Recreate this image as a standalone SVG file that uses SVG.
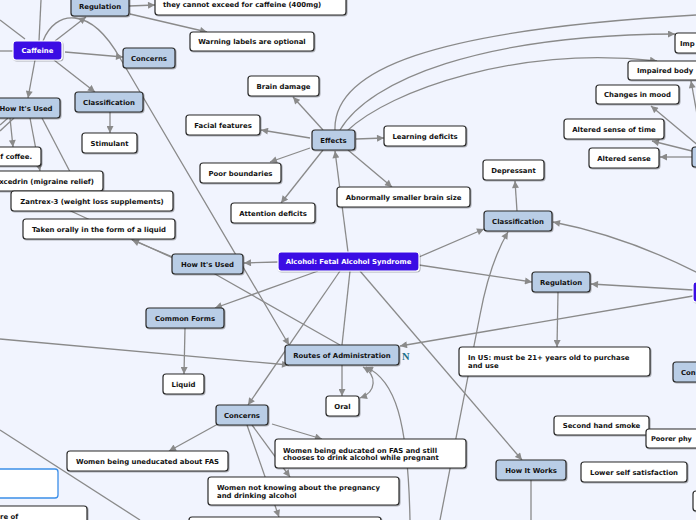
<svg xmlns="http://www.w3.org/2000/svg" width="696" height="520" viewBox="0 0 696 520">
<defs>
<marker id="a" viewBox="0 0 10 10" refX="10" refY="5" markerWidth="8" markerHeight="7" markerUnits="userSpaceOnUse" orient="auto-start-reverse"><path d="M0,0 L10,5 L0,10 z" fill="#8a8a8a"/></marker>
<filter id="sh" x="-10%" y="-20%" width="120%" height="150%"><feDropShadow dx="0.8" dy="0.8" stdDeviation="0.5" flood-color="#000" flood-opacity="0.35"/></filter>
</defs>
<style>
.c{fill:none;stroke:#8a8a8a;stroke-width:1.3}
.m{marker-end:url(#a)}
.w{fill:#fff;stroke:#2b2b2b;stroke-width:1.2;filter:url(#sh)}
.b{fill:#b9cde6;stroke:#2b2b2b;stroke-width:1.2;filter:url(#sh)}
.p{fill:#3a10e4;stroke:#fff;stroke-width:1.2;filter:url(#sh)}
text{font-family:"DejaVu Sans",Verdana,sans-serif;font-weight:bold;font-size:6.9px;fill:#111}
.ct{text-anchor:middle}
.wt{fill:#fff;text-anchor:middle}
</style>
<rect width="696" height="520" fill="#f1f4fe"/>
<g id="connectors">
<path class="c" d="M0,20 L25,39"/>
<path class="c" d="M41,0 L39,41"/>
<path class="c" d="M0,51 L13,51"/>
<path class="c m" d="M55,41 L86,17"/>
<path class="c m" d="M129,6 L155,5"/>
<path class="c m" d="M130,14 L207,32"/>
<path class="c m" d="M65,52 L123,57"/>
<path class="c m" d="M54,60 L95,92"/>
<path class="c m" d="M35,60 L28,98"/>
<path class="c m" d="M110,112 L110,133"/>
<path class="c m" d="M43,41 C55,10 90,5 120,58 L289,345"/>
<path class="c" d="M8,118 L0,125"/>
<path class="c" d="M14,118 L0,131"/>
<path class="c m" d="M10,118 L13,147"/>
<path class="c m" d="M30,118 L40,171"/>
<path class="c m" d="M42,118 L80,191"/>
<path class="c" d="M62,207 L175,259 L215,274 L340,345"/>
<path class="c m" d="M175,258 L132,240"/>
<path class="c m" d="M278,262 L244,263"/>
<path class="c m" d="M318,271 L215,308"/>
<path class="c m" d="M348,252 L335,151"/>
<path class="c" d="M350,271 L342,345"/>
<path class="c m" d="M340,271 L248,405"/>
<path class="c m" d="M360,271 L522,460"/>
<path class="c m" d="M419,257 L484,229"/>
<path class="c m" d="M419,265 L532,282"/>
<path class="c m" d="M517,211 L515,181"/>
<path class="c m" d="M558,292 L557,347"/>
<path class="c m" d="M698,273 Q625,236 553,222"/>
<path class="c m" d="M693,290 L591,284"/>
<path class="c m" d="M693,296 L400,346"/>
<path class="c m" d="M0,339 L289,365"/>
<path class="c m" d="M342,365 L342,396"/>
<path class="c m" d="M363,367 C377,375 377,392 360,398" marker-start="url(#a)"/>
<path class="c m" d="M410,520 C408,420 395,380 366,367"/>
<path class="c m" d="M440,520 L480,315 Q490,262 508,232"/>
<path class="c" d="M531,480 L531,520"/>
<path class="c m" d="M218,424 L169,451"/>
<path class="c m" d="M272,424 L322,439"/>
<path class="c m" d="M252,425 L290,477"/>
<path class="c m" d="M247,425 L279,517"/>
<path class="c" d="M0,430 L140,520"/>
<path class="c m" d="M185,328 L184,374"/>
<path class="c m" d="M323,130 L293,97"/>
<path class="c m" d="M310,138 L261,130"/>
<path class="c m" d="M310,148 L270,162"/>
<path class="c m" d="M323,150 L281,203"/>
<path class="c m" d="M356,139 L384,138"/>
<path class="c m" d="M348,150 L392,187"/>
<path class="c" d="M335,130 C333,70 430,30 696,15"/>
<path class="c m" d="M340,130 C370,80 480,35 675,34"/>
<path class="c m" d="M347,131 C390,90 520,45 657,61"/>
<path class="c m" d="M692,151 L652,141"/>
<path class="c m" d="M692,157 L660,157"/>
<path class="c m" d="M700,147 L651,106"/>
<path class="c m" d="M703,147 L691,81"/>
</g>
<g id="caf-regulation"><rect class="b" x="71" y="-4" width="58" height="20" rx="3"/><text class="ct" x="100" y="9">Regulation</text></g>
<g id="caf-limit"><rect class="w" x="155" y="-12" width="191" height="27" rx="3"/><text x="163" y="7.2">they cannot exceed for caffeine (400mg)</text></g>
<g id="caf-warning"><rect class="w" x="190" y="32" width="124" height="19" rx="3"/><text class="ct" x="252" y="44.2">Warning labels are optional</text></g>
<g id="caffeine"><rect class="p" x="13" y="41" width="49" height="19" rx="3"/><text class="wt" x="37.5" y="53">Caffeine</text></g>
<g id="caf-concerns"><rect class="b" x="123" y="48" width="52" height="20" rx="3"/><text class="ct" x="149" y="60.5">Concerns</text></g>
<g id="caf-classification"><rect class="b" x="75" y="92" width="68" height="20" rx="3"/><text class="ct" x="109" y="104.5">Classification</text></g>
<g id="caf-howused"><rect class="b" x="-8" y="98" width="68" height="20" rx="3"/><text class="ct" x="26" y="110.5">How It's Used</text></g>
<g id="caf-stimulant"><rect class="w" x="82" y="133" width="55" height="20" rx="3"/><text class="ct" x="109.5" y="145.5">Stimulant</text></g>
<g id="caf-coffee"><rect class="w" x="-20" y="147" width="61" height="19" rx="3"/><text x="32" y="159" text-anchor="end">f coffee.</text></g>
<g id="caf-excedrin"><rect class="w" x="-20" y="171" width="123" height="20" rx="3"/><text x="94" y="183.5" text-anchor="end">xcedrin (migraine relief)</text></g>
<g id="caf-zantrex"><rect class="w" x="11" y="191" width="162" height="20" rx="3"/><text class="ct" x="92" y="203.5">Zantrex-3 (weight loss supplements)</text></g>
<g id="caf-oral-liquid"><rect class="w" x="23" y="219" width="152" height="20" rx="3"/><text class="ct" x="99" y="231.5">Taken orally in the form of a liquid</text></g>
<g id="eff-brain"><rect class="w" x="248" y="76" width="71" height="20" rx="3"/><text class="ct" x="283.5" y="88.5">Brain damage</text></g>
<g id="eff-facial"><rect class="w" x="186" y="115" width="74" height="20" rx="3"/><text class="ct" x="223" y="127.5">Facial features</text></g>
<g id="effects"><rect class="b" x="312" y="130" width="43" height="20" rx="3"/><text class="ct" x="333.5" y="142.5">Effects</text></g>
<g id="eff-learning"><rect class="w" x="384" y="126" width="82" height="20" rx="3"/><text class="ct" x="425" y="138.5">Learning deficits</text></g>
<g id="eff-poor"><rect class="w" x="200" y="163" width="81" height="20" rx="3"/><text class="ct" x="240.5" y="175.5">Poor boundaries</text></g>
<g id="eff-abnormal"><rect class="w" x="337" y="187" width="133" height="20" rx="3"/><text class="ct" x="403.5" y="199.5">Abnormally smaller brain size</text></g>
<g id="eff-attention"><rect class="w" x="231" y="203" width="84" height="20" rx="3"/><text class="ct" x="273" y="215.5">Attention deficits</text></g>
<g id="imp"><rect class="w" x="675" y="33" width="40" height="20" rx="3"/><text x="680" y="45.5">Imp</text></g>
<g id="impaired-body"><rect class="w" x="628" y="61" width="80" height="19" rx="3"/><text x="637" y="73">Impaired body</text></g>
<g id="changes-mood"><rect class="w" x="596" y="85" width="83" height="19" rx="3"/><text class="ct" x="637.5" y="97">Changes in mood</text></g>
<g id="altered-time"><rect class="w" x="564" y="119" width="100" height="20" rx="3"/><text class="ct" x="614" y="131.5">Altered sense of time</text></g>
<g id="altered-sense"><rect class="w" x="589" y="148" width="70" height="20" rx="3"/><text class="ct" x="624" y="160.5">Altered sense</text></g>
<g id="right-effects"><rect class="b" x="692" y="147" width="30" height="20" rx="3"/></g>
<g id="depressant"><rect class="w" x="483" y="160" width="61" height="20" rx="3"/><text class="ct" x="513.5" y="172.5">Depressant</text></g>
<g id="alc-classification"><rect class="b" x="484" y="211" width="68" height="20" rx="3"/><text class="ct" x="518" y="223.5">Classification</text></g>
<g id="alc-regulation"><rect class="b" x="532" y="272" width="58" height="20" rx="3"/><text class="ct" x="561" y="284.5">Regulation</text></g>
<g id="right-main"><rect class="p" x="693" y="282" width="30" height="20" rx="3"/></g>
<g id="alcohol"><rect class="p" x="278" y="252" width="141" height="19" rx="3"/><text class="wt" x="348.5" y="264">Alcohol: Fetal Alcohol Syndrome</text></g>
<g id="alc-howused"><rect class="b" x="172" y="254" width="71" height="20" rx="3"/><text class="ct" x="207.5" y="266.5">How It's Used</text></g>
<g id="common-forms"><rect class="b" x="146" y="308" width="78" height="20" rx="3"/><text class="ct" x="185" y="320.5">Common Forms</text></g>
<g id="routes"><rect class="b" x="285" y="345" width="114" height="20" rx="3"/><text class="ct" x="342" y="357.5">Routes of Administration</text><text x="402" y="359.5" style="font-family:'Liberation Serif',serif;font-size:10.5px;fill:#1d6f88;text-anchor:start">N</text></g>
<g id="liquid"><rect class="w" x="163" y="374" width="41" height="20" rx="3"/><text class="ct" x="183.5" y="386.5">Liquid</text></g>
<g id="oral"><rect class="w" x="326" y="396" width="33" height="20" rx="3"/><text class="ct" x="342.5" y="408.5">Oral</text></g>
<g id="alc-concerns"><rect class="b" x="216" y="405" width="52" height="20" rx="3"/><text class="ct" x="242" y="417.5">Concerns</text></g>
<g id="in-us"><rect class="w" x="459" y="347" width="191" height="29" rx="3"/><text x="468" y="359.8">In US: must be 21+ years old to purchase</text><text x="468" y="368.2">and use</text></g>
<g id="right-concerns"><rect class="b" x="673" y="362" width="40" height="20" rx="3"/><text x="681" y="374.5">Con</text></g>
<g id="second-hand"><rect class="w" x="554" y="416" width="95" height="19" rx="3"/><text class="ct" x="601.5" y="428">Second hand smoke</text></g>
<g id="poorer"><rect class="w" x="646" y="429" width="60" height="19" rx="3"/><text x="651" y="441" style="font-size:6.6px">Poorer phy</text></g>
<g id="lower-self"><rect class="w" x="581" y="462" width="106" height="20" rx="3"/><text class="ct" x="634" y="474.5">Lower self satisfaction</text></g>
<g id="how-works"><rect class="b" x="496" y="460" width="70" height="20" rx="3"/><text class="ct" x="531" y="472.5">How It Works</text></g>
<g id="right-sliver"><rect class="w" x="693" y="491" width="20" height="20" rx="3"/></g>
<g id="women-edu"><rect class="w" x="275" y="439" width="191" height="29" rx="3"/><text x="283" y="452.5">Women being educated on FAS and still</text><text x="283" y="460.3">chooses to drink alcohol while pregnant</text></g>
<g id="women-not"><rect class="w" x="208" y="477" width="191" height="28" rx="3"/><text x="217" y="490.2">Women not knowing about the pregnancy</text><text x="217" y="498.2">and drinking alcohol</text></g>
<g id="bottom-box"><rect class="w" x="189" y="517" width="192" height="20" rx="3"/></g>
<g id="women-unedu"><rect class="w" x="67" y="451" width="161" height="20" rx="3"/><text class="ct" x="147.5" y="463.5">Women being uneducated about FAS</text></g>
<g id="selected-box"><rect x="-10" y="469" width="68" height="29" rx="3" fill="#fff" stroke="#3b8ee8" stroke-width="1.3"/></g>
<g id="re-of"><rect class="w" x="-10" y="506" width="97" height="25" rx="3"/><text x="0" y="518.5">re of</text></g>
</svg>
